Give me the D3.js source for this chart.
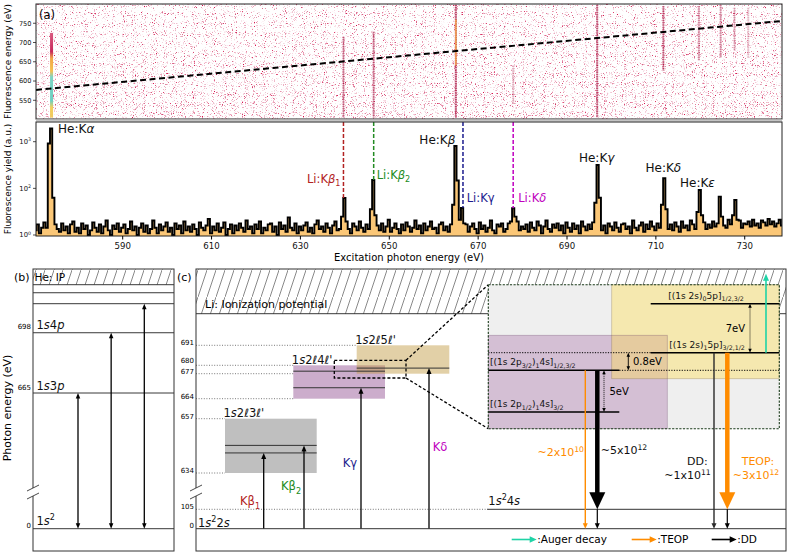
<!DOCTYPE html>
<html>
<head>
<meta charset="utf-8">
<script src="https://cdn.jsdelivr.net/npm/d3@7"></script>
<style>
  body { margin: 0; background: #fff; }
  svg { display: block; font-family: 'DejaVu Sans', sans-serif; }
</style>
</head>
<body>
<div id="chart"></div>
<script>
// ---------- (a) excitation map + spectrum ----------
const excitTicks = [590, 610, 630, 650, 670, 690, 710, 730];
const fluorTicks = [550, 600, 650, 700, 750];
const yieldTicks = [1, 100, 1000];
const yieldTickExp = ['0', '2', '3'];

// spectrum counts, 0.5 eV bins starting at 570.5 eV
const specStart = 570.5;
const specStep = 0.5;
const specBaseline = [
  4, 9, 2, 6, 11, 3, 7, 1, 8, 14, 5, 3, 10, 4, 7, 2, 9, 12, 3, 6,
  2, 10, 5, 8, 1, 4, 11, 6, 3, 9, 2, 7, 13, 4, 1, 8, 5, 10, 3, 6,
  9, 2, 5, 12, 4, 7, 1, 6, 10, 3, 8, 2, 5, 13, 6, 2, 9, 4, 7, 11,
  3, 6, 1, 10, 5, 8, 2, 12, 4, 7, 3, 9, 5, 1, 11, 6, 4, 8, 15, 2,
  7, 4, 10, 3, 6, 11, 1, 5, 9, 2, 8, 4, 10, 6, 3, 13, 5, 7, 2, 9,
  5, 12, 2, 6, 4, 9, 10, 3, 7, 1, 11, 5, 8, 3, 17, 6, 4, 10, 2, 7,
  4, 8, 11, 3, 6, 2, 9, 13, 5, 7, 3, 10, 6, 2, 8, 12, 4, 5, 11, 3,
  8, 5, 2, 10, 7, 4, 12, 6, 3, 9, 5, 11, 2, 6, 8, 4, 10, 3, 7, 14,
  3, 6, 10, 5, 2, 9, 4, 11, 7, 3, 6, 13, 5, 8, 2, 10, 4, 7, 12, 5,
  6, 2, 9, 11, 4, 7, 3, 12, 5, 8, 2, 6, 12, 4, 9, 3, 7, 10, 5, 2,
  11, 5, 8, 3, 6, 13, 4, 2, 9, 7, 10, 3, 5, 10, 6, 2, 8, 12, 4, 7,
  5, 9, 3, 11, 6, 4, 12, 8, 2, 7, 13, 5, 3, 9, 6, 10, 4, 8, 2, 11,
  6, 3, 10, 5, 8, 2, 12, 7, 4, 9, 5, 11, 3, 6, 14, 4, 8, 2, 10, 7,
  4, 11, 6, 3, 9, 10, 5, 7, 2, 13, 6, 4, 8, 11, 3, 9, 5, 12, 7, 4,
  10, 6, 3, 8, 12, 5, 9, 4, 11, 7, 3, 12, 6, 8, 4, 13, 9, 5, 10, 7,
  8, 11, 5, 9, 6, 12, 7, 10, 4, 12, 8, 6, 14, 9, 5, 11, 7, 13, 6, 10,
  9, 12, 7, 14, 8, 10, 6, 13, 11, 8, 15, 9, 12, 7, 10, 14, 8, 11, 9, 13
];
// resonance bins [excitation eV, counts]
const specPeaks = [
  [573, 6], [573.5, 920], [574, 1880], [574.5, 60], [575, 9],
  [639.5, 18], [640, 59], [640.5, 12],
  [646, 30], [646.5, 154], [647, 20],
  [664, 9], [664.5, 40], [665, 813], [665.5, 150], [666, 14],
  [666.5, 33], [667, 10],
  [677.5, 12], [678, 32], [678.5, 18],
  [696.5, 45], [697, 324], [697.5, 60],
  [711.5, 40], [712, 168], [712.5, 30],
  [719.5, 25], [720, 92], [720.5, 20],
  [724.5, 64], [725, 18],
  [727.5, 20], [728, 53], [728.5, 14]
];

const heLineNames = ['α', 'β', 'γ', 'δ', 'ε'];
const heLineE = [574.1, 665.1, 696.9, 711.8, 719.8];
const heLineY = [1880, 813, 324, 168, 92];

const liLineNames = ['β1', 'β2', 'γ', 'δ'];
const liLineE = [639.8, 646.6, 666.7, 678.0];
const liLineY = [59, 154, 33, 32];
const liColors = ['#b22222', '#228b22', '#1c1c8e', '#c000c0'];

// streaks in the 2D map [excitation, fluorescence low, high, strength]
const streakE = [574.1, 639.8, 646.6, 665.1, 678.0, 696.9, 711.8, 719.8, 724.7, 727.8, 730.9];
const streakLo = [505, 505, 505, 505, 540, 505, 627, 654, 660, 680, 660];
const streakHi = [725, 715, 728, 798, 640, 798, 795, 795, 798, 790, 790];
const streakStrength = [1, 0.7, 0.7, 0.9, 0.35, 0.8, 0.75, 0.55, 0.55, 0.45, 0.3];

const elasticE = [570.6, 738.5];
const elasticF = [577, 756];

// ---------- (b) He-like levels ----------
const heLevelE = [0, 665, 698, 713.9, 719.9];
const heLevelName = ['1s²', '1s3p', '1s4p', '', ''];
const heTicks = [0, 665, 698];
const heIP = 724.3;
const heExcite = [665, 698, 713.9];

// ---------- (c) Li-like levels ----------
const liTicks = [0, 105, 634, 657, 664, 677, 680, 691];
const liIP = 700;
const liShellLo = [634, 664, 677];
const liShellHi = [657, 680, 691];
const liShellN = ['3', '4', '5'];
const liShellLevels = [[642.5, 645.7], [669.7, 677.9], [679.0]];
const liExcite = [642.5, 645.7, 669.7, 679.0];
const li4sE = 105;

// inset: energies relative to [(1s 2p3/2)1 4s]
const insetRel = [7.8, 0.8, 0, -5];
const insetGaps = [[0.8, 7.8, '7eV'], [0, 0.8, '0.8eV'], [-5, 0, '5eV']];
const decayRate = [2e10, 5e12, 1e11, 3e12];
const decayFrom = [0, 0, 0.8, 0.8];
const decayKind = ['TEOP', 'DD', 'DD', 'TEOP'];
const decayExp = ['10', '12', '11', '12'];
const decayMant = ['2', '5', '1', '3'];

// ---------- layout ----------
const W = 789, H = 553;
const A = { x0: 36, x1: 782, top: 4, mid: 119, top2: 122, bot: 236 };
const B = { x0: 33, x1: 174, y0: 269, y1: 551 };
const C = { x0: 196, x1: 786, y0: 269, y1: 551 };
const I = { x0: 488.3, x1: 779.3, y0: 284.7, y1: 428.7 };

const colOrange = '#ff8c00';
const colCyan = '#1fd3a6';

const svg = d3.select('#chart').append('svg').attr('width', W).attr('height', H);
const defs = svg.append('defs');

// helpers
function rich(sel, x, y, parts, size, opt = {}) {
  const t = sel.append('text').attr('x', x).attr('y', y).attr('font-size', size)
    .attr('text-anchor', opt.anchor || 'start').attr('fill', opt.fill || '#111');
  let off = 0;
  parts.forEach(p => {
    const [str, k] = typeof p === 'string' ? [p, ''] : p;
    const target = k.includes('sub') ? size * 0.28 : k.includes('sup') ? -size * (opt.sup || 0.42) : 0;
    const ts = t.append('tspan').attr('dy', target - off).text(str);
    off = target;
    if (target !== 0) ts.attr('font-size', size * 0.7);
    if (k.includes('it')) ts.attr('font-style', 'italic');
  });
  return t;
}

function head(g, x, y, ang, len, wid, color) {
  const c = Math.cos(ang), s = Math.sin(ang);
  const bx = x - len * c, by = y - len * s;
  g.append('path')
    .attr('d', `M${x},${y}L${bx - wid / 2 * s},${by + wid / 2 * c}L${bx + wid / 2 * s},${by - wid / 2 * c}Z`)
    .attr('fill', color);
}

function arrow(g, x1, y1, x2, y2, opt) {
  const o = Object.assign({ color: '#000', width: 1.2, len: 6, wid: 5, both: false, dash: null }, opt);
  const ang = Math.atan2(y2 - y1, x2 - x1);
  const c = Math.cos(ang), s = Math.sin(ang);
  const k = o.len * 0.8;
  g.append('line')
    .attr('x1', o.both ? x1 + k * c : x1).attr('y1', o.both ? y1 + k * s : y1)
    .attr('x2', x2 - k * c).attr('y2', y2 - k * s)
    .attr('stroke', o.color).attr('stroke-width', o.width)
    .attr('stroke-dasharray', o.dash);
  head(g, x2, y2, ang, o.len, o.wid, o.color);
  if (o.both) head(g, x1, y1, ang + Math.PI, o.len, o.wid, o.color);
}

function hline(g, x1, x2, y, opt = {}) {
  return g.append('line').attr('x1', x1).attr('x2', x2).attr('y1', y).attr('y2', y)
    .attr('stroke', opt.color || '#222').attr('stroke-width', opt.width || 1)
    .attr('stroke-dasharray', opt.dash || null);
}

function breakMark(g, x) {
  g.append('rect').attr('x', x - 2).attr('y', 488).attr('width', 4).attr('height', 8).attr('fill', '#fff');
  [488, 496].forEach(y => {
    g.append('line').attr('x1', x - 6).attr('y1', y + 3).attr('x2', x + 6).attr('y2', y - 3)
      .attr('stroke', '#333').attr('stroke-width', 0.9);
  });
}

// defs: speckle texture (two layers, the second denser toward low fluorescence energy)
function speckle(id, seed, cut) {
  const f = defs.append('filter').attr('id', id)
    .attr('x', 0).attr('y', 0).attr('width', 1).attr('height', 1)
    .attr('color-interpolation-filters', 'sRGB');
  f.append('feTurbulence').attr('type', 'fractalNoise').attr('baseFrequency', 0.9)
    .attr('numOctaves', 2).attr('seed', seed);
  f.append('feColorMatrix').attr('type', 'matrix')
    .attr('values', `0 0 0 0 0.84  0 -1 0 0 0.78  0 -0.7 0 0 0.8  5 0 0 0 ${-cut}`);
}
speckle('speckle', 11, 3.05);
speckle('speckle2', 29, 3.25);
const fade = defs.append('linearGradient').attr('id', 'fade').attr('x1', 0).attr('x2', 0).attr('y1', 0).attr('y2', 1);
fade.append('stop').attr('offset', 0).attr('stop-color', '#fff').attr('stop-opacity', 0);
fade.append('stop').attr('offset', 1).attr('stop-color', '#fff').attr('stop-opacity', 1);
defs.append('mask').attr('id', 'fadeMask').append('rect')
  .attr('x', A.x0).attr('y', A.top).attr('width', A.x1 - A.x0).attr('height', A.mid - A.top)
  .attr('fill', 'url(#fade)');

const hatch = defs.append('pattern').attr('id', 'hatch')
  .attr('patternUnits', 'userSpaceOnUse').attr('width', 9).attr('height', 27);
hatch.append('line').attr('x1', -1).attr('y1', 30).attr('x2', 10).attr('y2', -3)
  .attr('stroke', '#555').attr('stroke-width', 0.7);

const x = d3.scaleLinear().domain([570.6, 738.5]).range([A.x0, A.x1]);
const yF = d3.scaleLinear().domain([501.4, 800]).range([A.mid, A.top]);
const yY = d3.scaleSymlog().constant(11.24).domain([0, 2556]).range([236.8, A.top2]);

const kaGrad = defs.append('linearGradient').attr('id', 'kaGrad')
  .attr('gradientUnits', 'userSpaceOnUse')
  .attr('x1', 0).attr('x2', 0).attr('y1', yF(streakHi[0])).attr('y2', yF(streakLo[0]));
[[0, '#d85a80'], [0.22, '#c8285a'], [0.3, '#f2a648'], [0.45, '#f5c050'],
 [0.52, '#7fd4c4'], [0.8, '#6ccfc0'], [0.88, '#f2cf5a'], [1, '#f0c860']]
  .forEach(([o, c]) => kaGrad.append('stop').attr('offset', o).attr('stop-color', c));

defs.append('clipPath').attr('id', 'clipMap').append('rect')
  .attr('x', A.x0).attr('y', A.top).attr('width', A.x1 - A.x0).attr('height', A.mid - A.top);
defs.append('clipPath').attr('id', 'clipSpec').append('rect')
  .attr('x', A.x0).attr('y', A.top2).attr('width', A.x1 - A.x0).attr('height', A.bot - A.top2);

// ================= (a) map =================
const gMap = svg.append('g').attr('clip-path', 'url(#clipMap)');
gMap.append('rect').attr('x', A.x0).attr('y', A.top).attr('width', A.x1 - A.x0)
  .attr('height', A.mid - A.top).attr('filter', 'url(#speckle)');
gMap.append('g').attr('mask', 'url(#fadeMask)').append('rect')
  .attr('x', A.x0).attr('y', A.top).attr('width', A.x1 - A.x0)
  .attr('height', A.mid - A.top).attr('filter', 'url(#speckle2)');

streakE.forEach((e, i) => {
  if (i === 0) {
    gMap.append('rect').attr('x', x(e) - 1.5).attr('width', 3)
      .attr('y', yF(streakHi[i])).attr('height', yF(streakLo[i]) - yF(streakHi[i]))
      .attr('fill', 'url(#kaGrad)');
    return;
  }
  gMap.append('line').attr('x1', x(e)).attr('x2', x(e))
    .attr('y1', yF(streakHi[i])).attr('y2', yF(streakLo[i]))
    .attr('stroke', '#b01848').attr('stroke-width', 2.2)
    .attr('stroke-dasharray', '1.5 0.8').attr('opacity', streakStrength[i] * 0.8);
  gMap.append('line').attr('x1', x(e)).attr('x2', x(e))
    .attr('y1', yF(streakHi[i])).attr('y2', yF(streakLo[i]))
    .attr('stroke', '#a0143e').attr('stroke-width', 0.9).attr('opacity', streakStrength[i] * 0.45);
});
// He:Kβ bright core
gMap.append('line').attr('x1', x(heLineE[1])).attr('x2', x(heLineE[1]))
  .attr('y1', yF(760)).attr('y2', yF(640)).attr('stroke', '#f2a24a').attr('stroke-width', 1.4);

gMap.append('line')
  .attr('x1', x(elasticE[0])).attr('y1', yF(elasticF[0]))
  .attr('x2', x(elasticE[1])).attr('y2', yF(elasticF[1]))
  .attr('stroke', '#000').attr('stroke-width', 2).attr('stroke-dasharray', '6 3.5');

svg.append('rect').attr('x', A.x0).attr('y', A.top).attr('width', A.x1 - A.x0)
  .attr('height', A.mid - A.top).attr('fill', 'none').attr('stroke', '#222').attr('stroke-width', 1);
svg.append('rect').attr('x', A.x0).attr('y', A.mid + 0.5).attr('width', A.x1 - A.x0)
  .attr('height', A.top2 - A.mid - 1).attr('fill', '#c4c4c4');

fluorTicks.forEach(v => {
  hline(svg, A.x0 - 3, A.x0, yF(v), { width: 0.8 });
  svg.append('text').attr('x', A.x0 - 4.5).attr('y', yF(v) + 2.3).attr('text-anchor', 'end')
    .attr('font-size', 6.6).attr('fill', '#111').text(v);
});

svg.append('text').attr('x', A.x0 + 3).attr('y', A.top + 15).attr('font-size', 11.5).text('(a)');
svg.append('text').attr('transform', `translate(11,${(A.top + A.mid) / 2}) rotate(-90)`)
  .attr('text-anchor', 'middle').attr('font-size', 9).text('Fluorescence energy (eV)');

// ================= (a) spectrum =================
const spec = specBaseline.map((v, i) => ({ e: specStart + i * specStep, v }));
specPeaks.forEach(([e, v]) => {
  const i = Math.round((e - specStart) / specStep);
  if (spec[i]) spec[i].v = v;
});

const gSpec = svg.append('g').attr('clip-path', 'url(#clipSpec)');
gSpec.append('path').datum(spec)
  .attr('d', d3.area().curve(d3.curveStep).x(d => x(d.e)).y0(yY(0)).y1(d => yY(d.v)))
  .attr('fill', '#fbc777');
gSpec.append('path').datum(spec)
  .attr('d', d3.line().curve(d3.curveStep).x(d => x(d.e)).y(d => yY(d.v)))
  .attr('fill', 'none').attr('stroke', '#000').attr('stroke-width', 1.9).attr('stroke-linejoin', 'miter');

liLineE.forEach((e, i) => {
  gSpec.append('line').attr('x1', x(e)).attr('x2', x(e))
    .attr('y1', A.top2).attr('y2', yY(liLineY[i]))
    .attr('stroke', liColors[i]).attr('stroke-width', 1.5).attr('stroke-dasharray', '4 2');
});

svg.append('rect').attr('x', A.x0).attr('y', A.top2).attr('width', A.x1 - A.x0)
  .attr('height', A.bot - A.top2).attr('fill', 'none').attr('stroke', '#222').attr('stroke-width', 1);

const axX = svg.append('g').attr('transform', `translate(0,${A.bot})`)
  .call(d3.axisBottom(x).tickValues(excitTicks).tickSize(3.5).tickPadding(3).tickFormat(d3.format('d')));
axX.select('.domain').remove();
axX.selectAll('text').attr('font-size', 8.6).attr('font-family', 'DejaVu Sans').attr('fill', '#111');

yieldTicks.forEach((v, i) => {
  const yy = yY(v);
  hline(svg, A.x0 - 3, A.x0, yy, { width: 0.8 });
  rich(svg, A.x0 - 5, yy + 2.5, ['10', [yieldTickExp[i], 'sup']], 6.8, { anchor: 'end' });
});

svg.append('text').attr('x', (A.x0 + A.x1) / 2).attr('y', 261).attr('text-anchor', 'middle')
  .attr('font-size', 10).text('Excitation photon energy (eV)');
svg.append('text').attr('transform', `translate(11,${(A.top2 + A.bot) / 2}) rotate(-90)`)
  .attr('text-anchor', 'middle').attr('font-size', 9).text('Fluorescence yield (a.u.)');

const heLabAnchor = ['start', 'end', 'middle', 'middle', 'middle'];
const heLabDx = [6.5, -0.5, -0.5, 0, -1.5];
const heLabDy = [5, -2, -3, -6, -2.5];
heLineE.forEach((e, i) => {
  rich(svg, x(e) + heLabDx[i], yY(heLineY[i]) + heLabDy[i], ['He:K', [heLineNames[i], 'it']], 12,
    { anchor: heLabAnchor[i] });
});

const liLabAnchor = ['end', 'start', 'start', 'start'];
const liLabDx = [-3, 3, 3.7, 5];
const liLabY = [182.5, 179, 202, 202];
liLineE.forEach((e, i) => {
  const n = liLineNames[i];
  const parts = n.length > 1
    ? ['Li:K', [n[0], 'it'], [n[1], 'sub']]
    : ['Li:K', [n, i === 2 ? '' : 'it']];
  rich(svg, x(e) + liLabDx[i], liLabY[i], parts, 11.5, { anchor: liLabAnchor[i], fill: liColors[i] });
});

// ================= (b) He levels =================
const yB = d3.scaleLinear().domain([0, 620, heIP]).range([528.7, 475.2, 284.7]);
const gB = svg.append('g');
gB.append('rect').attr('x', B.x0).attr('y', B.y0).attr('width', B.x1 - B.x0)
  .attr('height', yB(heIP) - B.y0).attr('fill', 'url(#hatch)');
hline(gB, B.x0, B.x1, yB(heIP), { width: 0.9 });
heLevelE.forEach((e, i) => {
  hline(gB, B.x0, B.x1, yB(e), { width: 0.9 });
  const nm = heLevelName[i];
  if (!nm) return;
  const parts = nm === '1s²' ? ['1', ['s', 'it'], ['2', 'sup']] : ['1', ['s', 'it'], nm[2], [nm[3], 'it']];
  rich(gB, B.x0 + 3.5, yB(e) - 3.5, parts, 11.5);
});
heTicks.forEach(v => {
  gB.append('text').attr('x', B.x0 - 2).attr('y', yB(v) - (v === 0 ? 0.5 : 3.5))
    .attr('text-anchor', 'end').attr('font-size', 7).text(v);
});
const xB = d3.scalePoint().domain(heExcite).range([78, 144.3]);
heExcite.forEach(e => {
  arrow(gB, xB(e), yB(0), xB(e), yB(e), { both: true, width: 1.3, len: 5.5, wid: 4.5 });
});
gB.append('text').attr('x', B.x0 + 1.5).attr('y', B.y0 + 12).attr('font-size', 10.5).text('He: IP');
gB.append('rect').attr('x', B.x0).attr('y', B.y0).attr('width', B.x1 - B.x0)
  .attr('height', B.y1 - B.y0).attr('fill', 'none').attr('stroke', '#333').attr('stroke-width', 1);
breakMark(gB, B.x0);
svg.append('text').attr('x', 14).attr('y', B.y0 + 12).attr('font-size', 11).text('(b)');
svg.append('text').attr('transform', `translate(11,408) rotate(-90)`)
  .attr('text-anchor', 'middle').attr('font-size', 11).text('Photon energy (eV)');

// ================= (c) Li levels =================
const yC = d3.scaleLinear()
  .domain([0, 105, 634, 657, 664, 677, 680, 691, liIP])
  .range([528.7, 509.3, 473, 418.7, 398.7, 373.7, 365.3, 345.3, 313.7]);
const gC = svg.append('g');
gC.append('rect').attr('x', C.x0).attr('y', C.y0).attr('width', C.x1 - C.x0)
  .attr('height', yC(liIP) - C.y0).attr('fill', 'url(#hatch)');
hline(gC, C.x0, C.x1, yC(liIP), { width: 0.9 });
gC.append('text').attr('x', C.x0 + 9).attr('y', yC(liIP) - 6).attr('font-size', 11)
  .text('Li: Ionization potential');

const shellX0 = [225, 293.3, 356.7];
const shellX1 = [316.7, 385, 449.3];
const shellFill = ['rgba(128,128,128,0.5)', 'rgba(128,50,128,0.4)', 'rgba(190,150,60,0.45)'];
const tickEnd = { 105: I.x0, 634: shellX0[0], 657: shellX0[0], 664: shellX0[1], 677: shellX0[1], 680: shellX0[1], 691: shellX0[2] };
liTicks.forEach(v => {
  if (v > 0) hline(gC, C.x0, tickEnd[v], yC(v), { color: '#555', width: 0.8, dash: '1 1.6' });
  gC.append('text').attr('x', C.x0 - 2).attr('y', yC(v) - (v === 680 ? 2.5 : v === 0 ? 0.5 : 0))
    .attr('text-anchor', 'end').attr('font-size', 7).text(v);
});
liShellLo.forEach((lo, i) => {
  gC.append('rect').attr('x', shellX0[i]).attr('y', yC(liShellHi[i]))
    .attr('width', shellX1[i] - shellX0[i]).attr('height', yC(lo) - yC(liShellHi[i]))
    .attr('fill', shellFill[i]);
});
liShellLo.forEach((lo, i) => {
  liShellLevels[i].forEach(e => hline(gC, shellX0[i], shellX1[i], yC(e), { color: '#333', width: 1 }));
  rich(gC, shellX0[i] - 1.5, yC(liShellHi[i]) - 1.5,
    ['1', ['s', 'it'], '2', ['ℓ', 'it'], liShellN[i], ['ℓ\'', 'it']], 11.5);
});

const liArrowX = [263.7, 304, 361, 429];
const liLabX = [250, 291, 350, 440];
const liLabBase = [505.3, 490.3, 467, 451.3];
liExcite.forEach((e, i) => {
  arrow(gC, liArrowX[i], yC(0), liArrowX[i], yC(e), { width: 1.3, len: 6, wid: 5 });
  const n = liLineNames[i];
  const parts = n.length > 1 ? ['K' + n[0], [n[1], 'sub']] : ['K' + n];
  rich(gC, liLabX[i], liLabBase[i], parts, 11.5, { anchor: 'middle', fill: liColors[i] });
});

// zoom box + connectors
const zb = { x0: 334.3, x1: 406, y0: 360.3, y1: 378 };
gC.append('rect').attr('x', zb.x0).attr('y', zb.y0).attr('width', zb.x1 - zb.x0).attr('height', zb.y1 - zb.y0)
  .attr('fill', 'none').attr('stroke', '#000').attr('stroke-width', 1.3).attr('stroke-dasharray', '3 2');
[[zb.y0, I.y0], [zb.y1, I.y1]].forEach(([a, b]) => {
  gC.append('line').attr('x1', zb.x1).attr('y1', a).attr('x2', I.x0).attr('y2', b)
    .attr('stroke', '#000').attr('stroke-width', 1.3).attr('stroke-dasharray', '3 2');
});

// inset
const yI = d3.scaleLinear().domain([-5, 0, 0.8, 7.8]).range([412, 370.3, 352.7, 303.7]);
const gI = svg.append('g');
gI.append('rect').attr('x', I.x0).attr('y', I.y0).attr('width', I.x1 - I.x0).attr('height', I.y1 - I.y0)
  .attr('fill', '#efefef');
gI.append('rect').attr('x', I.x0).attr('y', 335.3).attr('width', 667.3 - I.x0).attr('height', I.y1 - 335.3)
  .attr('fill', 'rgba(150,80,150,0.3)');
gI.append('rect').attr('x', 611.7).attr('y', I.y0).attr('width', I.x1 - 611.7).attr('height', 378.7 - I.y0)
  .attr('fill', 'rgba(255,222,80,0.4)').attr('stroke', 'rgba(120,100,60,0.35)').attr('stroke-width', 0.8);
gI.append('rect').attr('x', I.x0).attr('y', 335.3).attr('width', 667.3 - I.x0).attr('height', I.y1 - 335.3)
  .attr('fill', 'none').attr('stroke', 'rgba(100,60,100,0.35)').attr('stroke-width', 0.8);

const insetX0 = [650.7, 650.7, I.x0, I.x0];
const insetX1 = [I.x1, I.x1, 619.3, 619.3];
const insetLabX = [668.3, 669.3, 490, 490];
const insetLab = [
  ['[(1s 2s)', ['0', 'sub'], '5p]', ['1/2,3/2', 'sub']],
  ['[(1s 2s)', ['1', 'sub'], '5p]', ['3/2,1/2', 'sub']],
  ['[(1s 2p', ['3/2', 'sub'], ')', ['1', 'sub'], '4s]', ['1/2,3/2', 'sub']],
  ['[(1s 2p', ['1/2', 'sub'], ')', ['1', 'sub'], '4s]', ['3/2', 'sub']]
];
insetRel.forEach((r, i) => {
  hline(gI, insetX0[i], insetX1[i], yI(r), { color: '#000', width: 1.5 });
  rich(gI, insetLabX[i], yI(r) - 5, insetLab[i], 9);
});
hline(gI, I.x0, insetX0[1], yI(0.8), { color: '#000', width: 1, dash: '1.2 1.4' });
hline(gI, insetX1[2], I.x1, yI(0), { color: '#000', width: 1, dash: '1.2 1.4' });

const gapX = [750, 628.3, 604];
const gapLabX = [745, 633, 609.5];
const gapAnchor = ['end', 'start', 'start'];
insetGaps.forEach(([lo, hi, lab], i) => {
  arrow(gI, gapX[i], yI(lo), gapX[i], yI(hi),
    { both: true, width: 0.9, len: 4, wid: 3.5, dash: i === 1 ? null : '1 1' });
  gI.append('text').attr('x', gapLabX[i]).attr('y', (yI(lo) + yI(hi)) / 2 + 3.5)
    .attr('text-anchor', gapAnchor[i]).attr('font-size', 10).text(lab);
});
gI.append('rect').attr('x', I.x0).attr('y', I.y0).attr('width', I.x1 - I.x0).attr('height', I.y1 - I.y0)
  .attr('fill', 'none').attr('stroke', '#1a3a1a').attr('stroke-width', 1.1).attr('stroke-dasharray', '2.2 1.4');

// Auger
arrow(gI, 766, yI(0.8), 766, 273.7, { color: colCyan, width: 1.6, len: 7, wid: 6 });

// decays
const gD = svg.append('g');
hline(gD, I.x0 - 1, C.x1, yC(li4sE), { color: '#333', width: 1 });
rich(gD, I.x0, yC(li4sE) - 4, ['1', ['s', 'it'], ['2', 'sup'], '4', ['s', 'it']], 11.5);
hline(gD, C.x0, C.x1, yC(0), { color: '#333', width: 1 });
rich(gD, C.x0 + 2, yC(0) - 2, ['1', ['s', 'it'], ['2', 'sup'], '2', ['s', 'it']], 11.5);

const decayX = [585.3, 597.3, 714, 727.3];
decayFrom.forEach((r, i) => {
  const thick = decayRate[i] >= 1e12;
  const col = decayKind[i] === 'TEOP' ? colOrange : (thick ? '#000' : '#2a2a2a');
  if (thick) {
    arrow(gD, decayX[i], yI(r), decayX[i], yC(li4sE), { color: col, width: 4.5, len: 17, wid: 16 });
    arrow(gD, decayX[i], yC(li4sE), decayX[i], yC(0), { color: '#000', width: 1.2, len: 5.5, wid: 5 });
  } else {
    arrow(gD, decayX[i], yI(r), decayX[i], yC(0), { color: col, width: 1.4, len: 5.5, wid: 5 });
  }
});
const rateX = [584, 600.7, 687.5, 756];
const rateY = [455.5, 454, 479, 479];
const rateAnchor = ['end', 'start', 'middle', 'middle'];
decayRate.forEach((v, i) => {
  const col = decayKind[i] === 'TEOP' ? colOrange : '#111';
  rich(gD, rateX[i], rateY[i], ['~' + decayMant[i] + 'x10', [decayExp[i], 'sup']], 11,
    { anchor: rateAnchor[i], fill: col, sup: 0.36 });
});
gD.append('text').attr('x', 697.3).attr('y', 465).attr('text-anchor', 'middle')
  .attr('font-size', 11).attr('fill', '#111').text('DD:');
gD.append('text').attr('x', 758).attr('y', 465).attr('text-anchor', 'middle')
  .attr('font-size', 11).attr('fill', colOrange).text('TEOP:');

// legend
const legendName = [':Auger decay', ':TEOP', ':DD'];
const legendCol = [colCyan, colOrange, '#000'];
const legendX = [511.7, 631.7, 711.7];
legendName.forEach((n, i) => {
  arrow(gD, legendX[i], 539.5, legendX[i] + 25, 539.5, { color: legendCol[i], width: 1.6, len: 7, wid: 6.5 });
  gD.append('text').attr('x', legendX[i] + 25.5).attr('y', 543.3).attr('font-size', 10.5).text(n);
});

gC.append('rect').attr('x', C.x0).attr('y', C.y0).attr('width', C.x1 - C.x0)
  .attr('height', C.y1 - C.y0).attr('fill', 'none').attr('stroke', '#333').attr('stroke-width', 1);
breakMark(gD, C.x0);
svg.append('text').attr('x', 177).attr('y', C.y0 + 12).attr('font-size', 11).text('(c)');
</script>
</body>
</html>
